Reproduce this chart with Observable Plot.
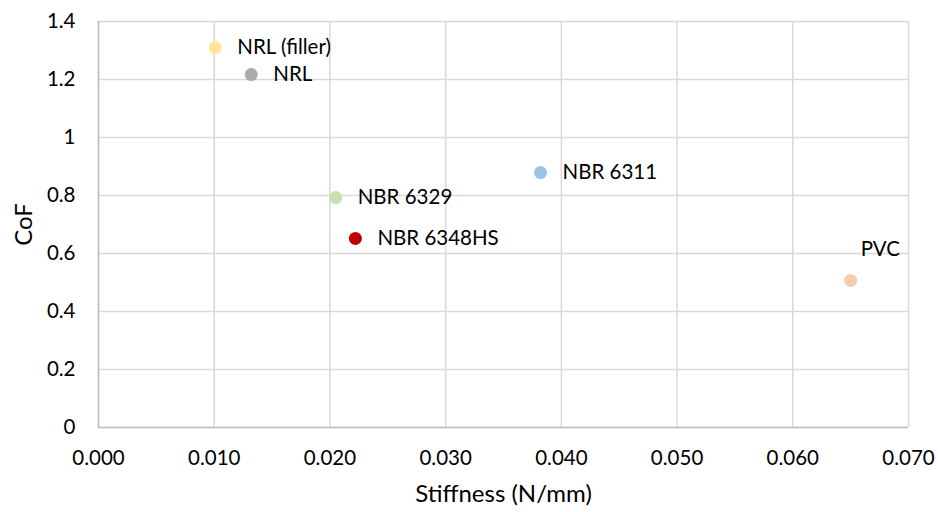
<!DOCTYPE html>
<html><head><meta charset="utf-8">
<script src="https://cdn.jsdelivr.net/npm/d3@7"></script>
<script src="https://cdn.jsdelivr.net/npm/@observablehq/plot@0.6"></script>
<style>body{margin:0;background:#fff;} svg{font-family:Lato,"Open Sans",sans-serif;}</style>
</head><body><div id="chart"></div>
<script>
const names = ["NRL (filler)", "NRL", "NBR 6329", "NBR 6348HS", "NBR 6311", "PVC"];
const stiffness = [0.0101, 0.0132, 0.0205, 0.0222, 0.0382, 0.0650];
const cof = [1.31, 1.217, 0.793, 0.652, 0.879, 0.507];
const colors = ["#FFE699", "#AEAAAA", "#C5E0B4", "#C00000", "#9DC3E6", "#F8CBAD"];
const xTicks = [0, 0.01, 0.02, 0.03, 0.04, 0.05, 0.06, 0.07];
const yTicks = [0, 0.2, 0.4, 0.6, 0.8, 1.0, 1.2, 1.4];
const xTitle = "Stiffness (N/mm)";
const yTitle = "CoF";

const data = names.map((n, i) => ({name: n, x: stiffness[i], y: cof[i], color: colors[i]}));
const above = data.filter(d => d.name === "PVC");
const right = data.filter(d => d.name !== "PVC");
const FS = 20.5;
const TS = 24;

const chart = Plot.plot({
  width: 938, height: 512,
  marginLeft: 98, marginTop: 21, marginRight: 30, marginBottom: 85,
  style: {fontSize: FS + "px", fontFamily: "Lato, 'Open Sans', sans-serif", color: "#000"},
  x: {domain: [0, 0.07]},
  y: {domain: [0, 1.4]},
  marks: [
    Plot.ruleX(xTicks, {stroke: "#d9d9d9", strokeWidth: 1.5}),
    Plot.ruleY(yTicks, {stroke: "#d9d9d9", strokeWidth: 1.5}),
    Plot.ruleX([0], {stroke: "#bfbfbf", strokeWidth: 1.5}),
    Plot.ruleY([0], {stroke: "#bfbfbf", strokeWidth: 1.5}),
    Plot.axisX({ticks: xTicks, tickFormat: d3.format(".3f"), tickSize: 0, tickPadding: 23, fontSize: FS, label: null}),
    Plot.axisY({ticks: yTicks, tickFormat: d => d === 0 || d === 1 ? String(d) : d3.format(".1f")(d), tickSize: 0, tickPadding: 23, fontSize: FS, label: null}),
    Plot.text([xTitle], {frameAnchor: "bottom", dy: 74, fontSize: TS, fill: "#000"}),
    Plot.text([yTitle], {frameAnchor: "left", textAnchor: "middle", dx: -74, rotate: -90, fontSize: TS, fill: "#000"}),
    Plot.dot(data, {x: "x", y: "y", fill: "color", r: 6.5}),
    Plot.text(right, {x: "x", y: "y", text: "name", textAnchor: "start", dx: 22, fontSize: FS, fill: "#000"}),
    Plot.text(above, {x: "x", y: "y", text: "name", textAnchor: "start", dx: 10, dy: -31, fontSize: FS, fill: "#000"})
  ]
});
document.getElementById("chart").appendChild(chart);
</script></body></html>
